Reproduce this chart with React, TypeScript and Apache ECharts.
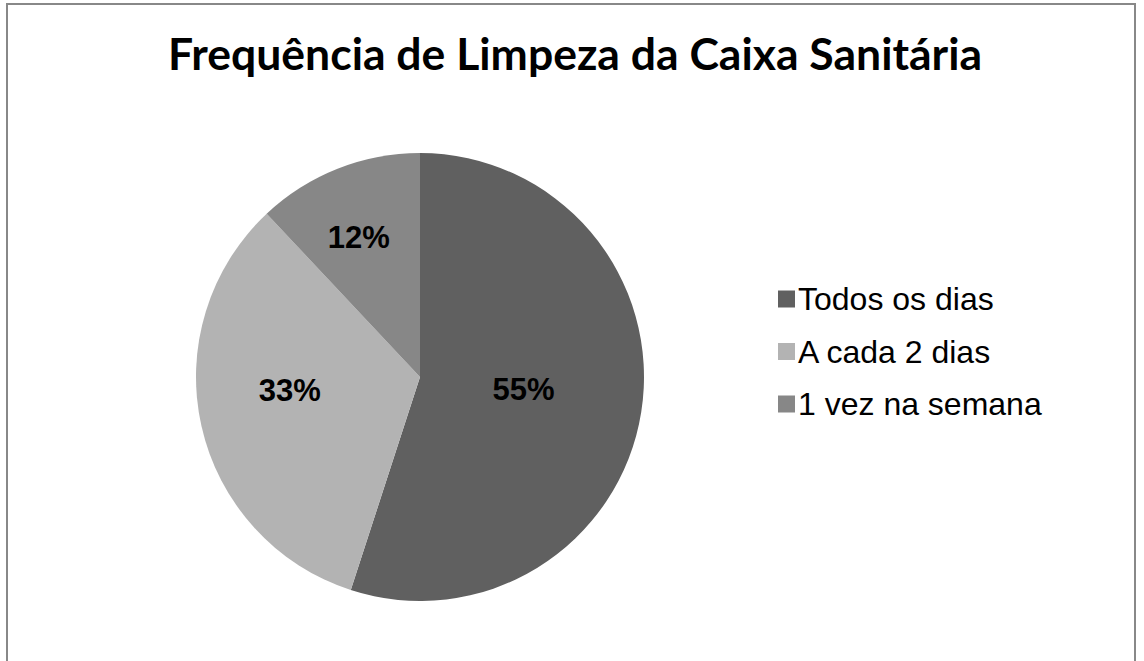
import React, { useEffect, useRef } from "react";
import * as echarts from "echarts";

const titleText = "Frequência de Limpeza da Caixa Sanitária";
const categories = ["Todos os dias", "A cada 2 dias", "1 vez na semana"];
const values = [55, 33, 12];
const colors = ["#606060", "#b3b3b3", "#878787"];
const labelOffsets = [[-10, -5], [-18, -12], [-19, -33]];

export default function App() {
  const ref = useRef<HTMLDivElement>(null);
  useEffect(() => {
    if (!ref.current) return;
    const chart = echarts.init(ref.current, null, { renderer: "svg" });
    chart.setOption({
      animation: false,
      backgroundColor: "#ffffff",
      title: {
        text: titleText,
        left: 570,
        top: 47,
        textAlign: "center",
        textVerticalAlign: "middle",
        textStyle: {
          fontFamily: "Lato",
          fontWeight: "bold",
          fontSize: 44.5,
          color: "#000000",
        },
      },
      graphic: [
        {
          type: "rect",
          shape: { x: 7, y: 4, width: 1128, height: 700 },
          style: { fill: "none", stroke: "#888888", lineWidth: 2 },
          silent: true,
        },
      ],
      legend: {
        orient: "vertical",
        left: 773,
        top: 278,
        itemWidth: 17,
        itemHeight: 17,
        itemGap: 20.5,
        icon: "rect",
        data: categories,
        textStyle: {
          fontFamily: "Liberation Sans, Arial",
          fontSize: 32,
          lineHeight: 32,
          color: "#000000",
          padding: [0, 0, 0, -2],
        },
      },
      series: [
        {
          type: "pie",
          center: [420, 377],
          radius: [0, 224],
          startAngle: 90,
          clockwise: true,
          avoidLabelOverlap: false,
          itemStyle: { borderWidth: 0 },
          emphasis: { disabled: true },
          label: {
            show: true,
            position: "inside",
            formatter: "{c}%",
            fontFamily: "Liberation Sans, Arial",
            fontWeight: "bold",
            fontSize: 31,
            color: "#000000",
          },
          labelLine: { show: false },
          data: categories.map((name, i) => ({
            name,
            value: values[i],
            itemStyle: { color: colors[i] },
            label: { offset: labelOffsets[i] },
          })),
        },
      ],
    });
    return () => chart.dispose();
  }, []);
  return (
    <div
      ref={ref}
      style={{ position: "absolute", left: 0, top: 0, width: 1144, height: 661 }}
    />
  );
}
